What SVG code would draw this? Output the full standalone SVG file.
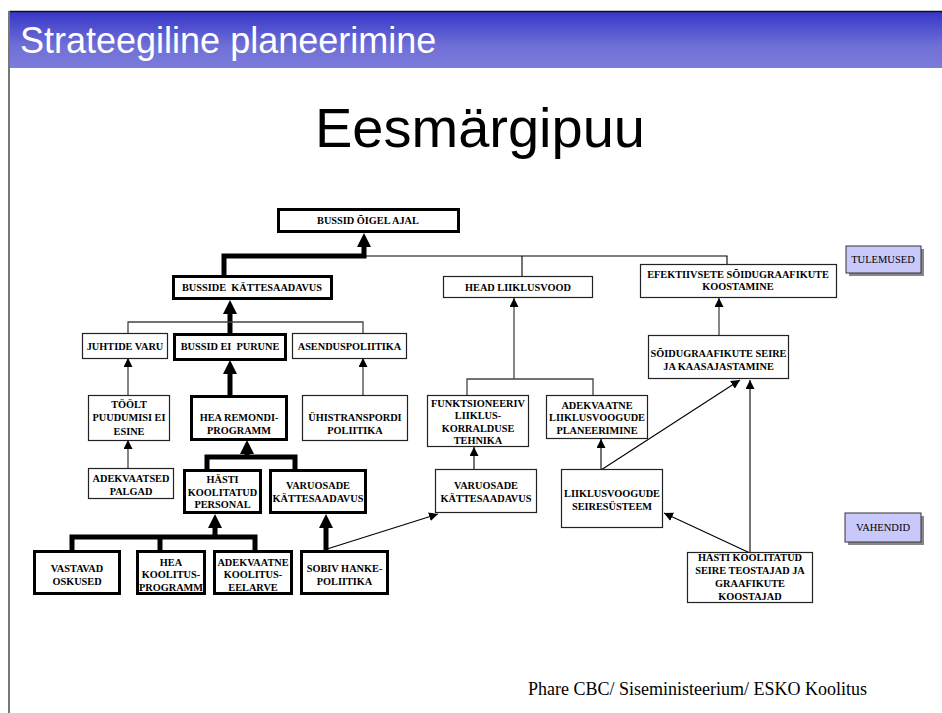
<svg xmlns="http://www.w3.org/2000/svg" width="942" height="713" viewBox="0 0 942 713">
<defs>
<linearGradient id="hdr" x1="0" y1="0" x2="0" y2="1">
<stop offset="0" stop-color="#3535c9"/>
<stop offset="0.6" stop-color="#6e6ed6"/>
<stop offset="1" stop-color="#7c7cdc"/>
</linearGradient>
<marker id="aThin" viewBox="0 0 10 10" refX="10" refY="5" markerUnits="userSpaceOnUse" markerWidth="9" markerHeight="9" orient="auto">
<path d="M0,0 L10,5 L0,10 z" fill="#000"/>
</marker>
<marker id="aThick" viewBox="0 0 10 10" refX="0" refY="5" markerUnits="userSpaceOnUse" markerWidth="14" markerHeight="14" orient="auto">
<path d="M0,0 L10,5 L0,10 z" fill="#000"/>
</marker>
</defs>
<style>
.b{fill:#fff;stroke:#222;stroke-width:1.2}
.B{fill:#fff;stroke:#000;stroke-width:3}
.lab{fill:#c8c8fa;stroke:#333;stroke-width:1}
.sh{fill:#888}
text.t{font-family:"Liberation Serif","Times New Roman",serif;font-weight:bold;font-size:10.3px;fill:#000;text-anchor:middle;white-space:pre}
text.l{font-family:"Liberation Serif","Times New Roman",serif;font-size:10.5px;fill:#000;text-anchor:middle}
.thin{fill:none;stroke:#444;stroke-width:1.3}
.dk{fill:none;stroke:#000;stroke-width:1.1}
.thick{fill:none;stroke:#000;stroke-width:5}
</style>
<rect width="942" height="713" fill="#fff"/>
<!-- header -->
<rect x="9" y="11" width="933" height="57" fill="url(#hdr)"/>
<line x1="9" y1="11.5" x2="942" y2="11.5" stroke="#111" stroke-width="1.5"/>
<line x1="9" y1="11" x2="9" y2="713" stroke="#777" stroke-width="2"/>
<text x="20" y="53" font-family="Liberation Sans, Arial, sans-serif" font-size="36" fill="#fff">Strateegiline planeerimine</text>
<text x="315" y="147" font-family="Liberation Sans, Arial, sans-serif" font-size="56" fill="#000">Eesmärgipuu</text>
<text x="528" y="695" font-family="Liberation Serif, Times New Roman, serif" font-size="18" fill="#000">Phare CBC/ Siseministeerium/ ESKO Koolitus</text>

<g id="connectors">
<!-- thick paths -->
<path class="thick" d="M224,276 V256 H364 V247" marker-end="url(#aThick)"/>
<path class="thick" d="M230,334 V314" marker-end="url(#aThick)"/>
<path class="thick" d="M230,396 V374" marker-end="url(#aThick)"/>
<path class="thick" d="M207,470 V457 H295 V470"/>
<path class="thick" d="M247,457 V454" marker-end="url(#aThick)"/>
<path class="thick" d="M72,551 V537 H255 V551"/>
<path class="thick" d="M160,537 V551"/>
<path class="thick" d="M215,537 V528" marker-end="url(#aThick)"/>
<path class="thick" d="M326,551 V528" marker-end="url(#aThick)"/>
<!-- thin tree lines -->
<path class="dk" d="M366,256 H727 V265"/>
<path class="dk" d="M522,256 V277"/>
<path class="thin" d="M128,334 V322 H363 V334"/>
<path class="thin" d="M128,396 V358" marker-end="url(#aThin)"/>
<path class="thin" d="M363,396 V358" marker-end="url(#aThin)"/>
<path class="thin" d="M128,469 V440" marker-end="url(#aThin)"/>
<path class="thin" d="M467,396 V379 H593 V396"/>
<path class="thin" d="M514,379 V298" marker-end="url(#aThin)"/>
<path class="dk" d="M474,470 V447" marker-end="url(#aThin)"/>
<path class="dk" d="M601,470 V439" marker-end="url(#aThin)"/>
<path class="thin" d="M719,336 V298" marker-end="url(#aThin)"/>
<!-- diagonals -->
<path class="dk" d="M327,549 L438,514" marker-end="url(#aThin)"/>
<path class="dk" d="M601,470 L740,380" marker-end="url(#aThin)"/>
<path class="dk" d="M750,553 V380" marker-end="url(#aThin)"/>
<path class="dk" d="M750,553 L664,513" marker-end="url(#aThin)"/>
</g>

<g id="n1"><rect class="B" x="278.5" y="209.5" width="180" height="22"/><text class="t" x="368" y="224">BUSSID ÕIGEL AJAL</text></g>
<g id="n2"><rect class="B" x="173.5" y="276.5" width="158" height="22"/><text class="t" x="252" y="291">BUSSIDE  KÄTTESAADAVUS</text></g>
<g id="n3"><rect class="b" x="443.5" y="276.5" width="149" height="21"/><text class="t" x="518" y="291">HEAD LIIKLUSVOOD</text></g>
<g id="n4"><rect class="b" x="640.5" y="264.5" width="196" height="33"/><text class="t" x="738" y="278">EFEKTIIVSETE SÕIDUGRAAFIKUTE</text><text class="t" x="738" y="290">KOOSTAMINE</text></g>
<g id="n5"><rect class="sh" x="849" y="249" width="75" height="27"/><rect class="lab" x="846" y="246" width="75" height="27"/><text class="l" x="883" y="263">TULEMUSED</text></g>

<g id="n6"><rect class="b" x="82.5" y="333.5" width="85" height="25"/><text class="t" x="125" y="350">JUHTIDE VARU</text></g>
<g id="n7"><rect class="B" x="174.5" y="334.5" width="111" height="25"/><text class="t" x="230" y="350">BUSSID EI  PURUNE</text></g>
<g id="n8"><rect class="b" x="292.5" y="333.5" width="114" height="25"/><text class="t" x="349.5" y="350">ASENDUSPOLIITIKA</text></g>

<g id="n9"><rect class="b" x="88.5" y="395.5" width="81" height="45"/><text class="t" x="129" y="407.5">TÖÖLT</text><text class="t" x="129" y="421">PUUDUMISI EI</text><text class="t" x="129" y="434.5">ESINE</text></g>
<g id="n10"><rect class="B" x="191.5" y="396.5" width="95" height="43"/><text class="t" x="239" y="421">HEA REMONDI-</text><text class="t" x="239" y="434">PROGRAMM</text></g>
<g id="n11"><rect class="b" x="302.5" y="395.5" width="105" height="45"/><text class="t" x="355" y="421">ÜHISTRANSPORDI</text><text class="t" x="355" y="434">POLIITIKA</text></g>

<g id="n12"><rect class="b" x="88.5" y="468.5" width="85" height="30"/><text class="t" x="131" y="481.5">ADEKVAATSED</text><text class="t" x="131" y="494.5">PALGAD</text></g>
<g id="n13"><rect class="B" x="184.5" y="470.5" width="76" height="42"/><text class="t" x="222.5" y="483">HÄSTI</text><text class="t" x="222.5" y="495.5">KOOLITATUD</text><text class="t" x="222.5" y="508">PERSONAL</text></g>
<g id="n14"><rect class="B" x="270.5" y="470.5" width="95" height="42"/><text class="t" x="318" y="488.5">VARUOSADE</text><text class="t" x="318" y="501.5">KÄTTESAADAVUS</text></g>

<g id="n15"><rect class="B" x="34.5" y="551.5" width="85" height="42"/><text class="t" x="77" y="571.5">VASTAVAD</text><text class="t" x="77" y="584.5">OSKUSED</text></g>
<g id="n16"><rect class="B" x="137.5" y="551.5" width="67" height="42"/><text class="t" x="171" y="565.5">HEA</text><text class="t" x="171" y="578">KOOLITUS-</text><text class="t" x="171" y="590.5">PROGRAMM</text></g>
<g id="n17"><rect class="B" x="214.5" y="551.5" width="77" height="42"/><text class="t" x="253" y="565.5">ADEKVAATNE</text><text class="t" x="253" y="578">KOOLITUS-</text><text class="t" x="253" y="590.5">EELARVE</text></g>
<g id="n18"><rect class="B" x="301.5" y="551.5" width="86" height="42"/><text class="t" x="344.5" y="571.5">SOBIV HANKE-</text><text class="t" x="344.5" y="584.5">POLIITIKA</text></g>

<g id="n19"><rect class="b" x="427.5" y="395.5" width="101" height="51"/><text class="t" x="478" y="406.5">FUNKTSIONEERIV</text><text class="t" x="478" y="419">LIIKLUS-</text><text class="t" x="478" y="431.5">KORRALDUSE</text><text class="t" x="478" y="444">TEHNIKA</text></g>
<g id="n20"><rect class="b" x="546.5" y="395.5" width="101" height="43"/><text class="t" x="597" y="408.5">ADEKVAATNE</text><text class="t" x="597" y="421">LIIKLUSVOOGUDE</text><text class="t" x="597" y="433.5">PLANEERIMINE</text></g>
<g id="n21"><rect class="b" x="435.5" y="469.5" width="101" height="43"/><text class="t" x="486" y="488.5">VARUOSADE</text><text class="t" x="486" y="501.5">KÄTTESAADAVUS</text></g>
<g id="n22"><rect class="b" x="648.5" y="335.5" width="140" height="43"/><text class="t" x="718.5" y="356.5">SÕIDUGRAAFIKUTE SEIRE</text><text class="t" x="718.5" y="369.5">JA KAASAJASTAMINE</text></g>
<g id="n23"><rect class="b" x="561.5" y="469.5" width="101" height="58"/><text class="t" x="612" y="496.5">LIIKLUSVOOGUDE</text><text class="t" x="612" y="509.5">SEIRESÜSTEEM</text></g>
<g id="n24"><rect class="b" x="687.5" y="552.5" width="125" height="50"/><text class="t" x="750" y="561">HÄSTI KOOLITATUD</text><text class="t" x="750" y="574">SEIRE TEOSTAJAD JA</text><text class="t" x="750" y="587">GRAAFIKUTE</text><text class="t" x="750" y="600">KOOSTAJAD</text></g>
<g id="n25"><rect class="sh" x="848" y="516" width="76" height="29"/><rect class="lab" x="845" y="513" width="76" height="29"/><text class="l" x="883" y="531">VAHENDID</text></g>
</svg>
